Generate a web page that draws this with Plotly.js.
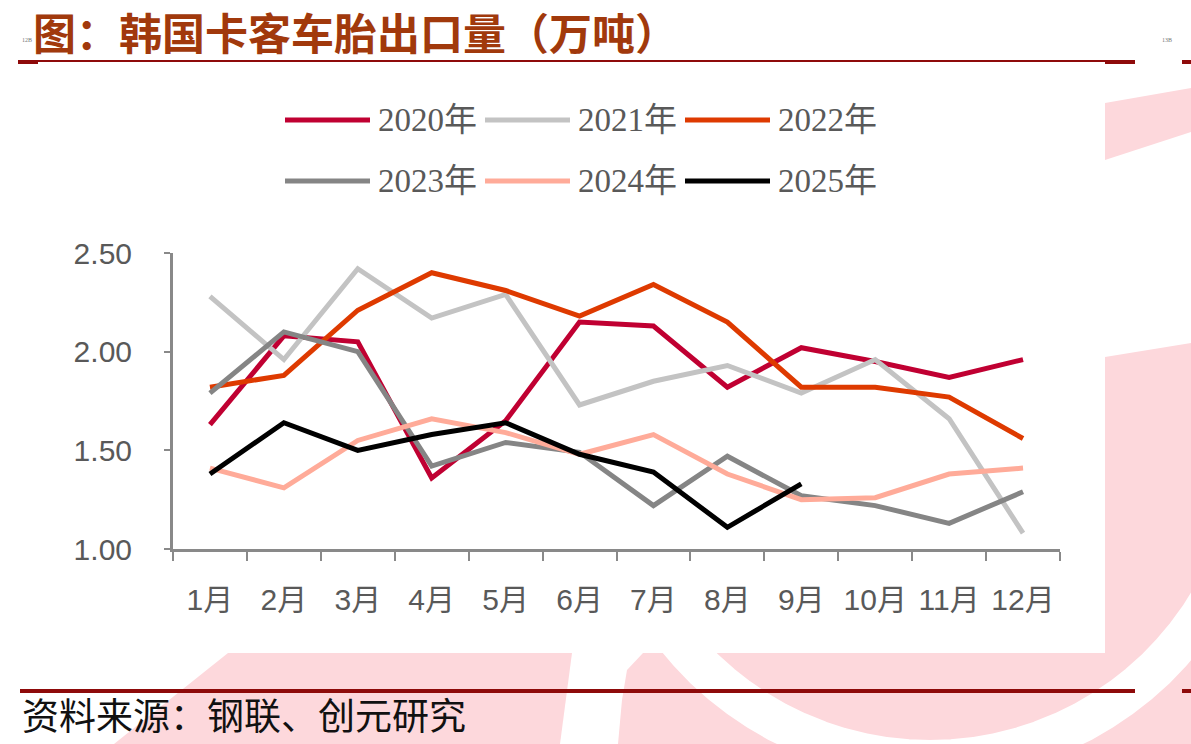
<!DOCTYPE html>
<html>
<head>
<meta charset="utf-8">
<script src="https://cdn.plot.ly/plotly-3.0.1.min.js"></script>
<style>html,body{margin:0;padding:0;background:#fff;}#chart{width:1191px;height:744px;}</style>
</head>
<body>
<div id="chart"></div>
<script>
// ---- data ----
const months = ['1月','2月','3月','4月','5月','6月','7月','8月','9月','10月','11月','12月'];
const seriesNames = ['2020年','2021年','2022年','2023年','2024年','2025年'];
const s2020 = [1.63, 2.08, 2.05, 1.36, 1.65, 2.15, 2.13, 1.82, 2.02, 1.95, 1.87, 1.96];
const s2021 = [2.28, 1.96, 2.42, 2.17, 2.29, 1.73, 1.85, 1.93, 1.79, 1.96, 1.66, 1.08];
const s2022 = [1.82, 1.88, 2.21, 2.40, 2.31, 2.18, 2.34, 2.15, 1.82, 1.82, 1.77, 1.56];
const s2023 = [1.79, 2.10, 2.00, 1.42, 1.54, 1.49, 1.22, 1.47, 1.27, 1.22, 1.13, 1.29];
const s2024 = [1.41, 1.31, 1.55, 1.66, 1.59, 1.48, 1.58, 1.38, 1.25, 1.26, 1.38, 1.41];
const s2025 = [1.38, 1.64, 1.50, 1.58, 1.64, 1.48, 1.39, 1.11, 1.33];
const yTickVals = [1.0, 1.5, 2.0, 2.5];
const yTickText = ['1.00', '1.50', '2.00', '2.50'];
const titleText = '图：韩国卡客车胎出口量（万吨）';
const sourceText = '资料来源：钢联、创元研究';

// ---- styles ----
const colors = ['#C00032', '#C3C3C3', '#DE3A00', '#858585', '#FFAB99', '#000000'];
const allSeries = [s2020, s2021, s2022, s2023, s2024, s2025];

const W = 1191, H = 744, L = 173, R = 131, T = 253, B = 195;
const pw = W - L - R, ph = H - T - B;
const X = px => (px - L) / pw;
const Y = py => (H - B - py) / ph;
const P = (pts, close) => 'M ' + pts.map(p => X(p[0]) + ',' + Y(p[1])).join(' L ') + (close === false ? '' : ' Z');

const pink = '#FDD8DC';
const darkRed = '#8E0A0A';

const traces = allSeries.map((s, i) => ({
  type: 'scatter', mode: 'lines', name: seriesNames[i],
  x: months.slice(0, s.length), y: s,
  line: {color: colors[i], width: 5},
  showlegend: false, hoverinfo: 'skip'
}));

const shapes = [];
const sh = o => shapes.push(Object.assign({xref: 'paper', yref: 'paper', layer: 'below'}, o));
// watermark
sh({type: 'path', path: P([[228,653],[572,653],[560,744],[114,744]]), fillcolor: pink, line: {width: 0}});
sh({type: 'path', path: P([[643,653],[1191,653],[1191,744],[618,744],[622,700],[627,670]]), fillcolor: pink, line: {width: 0}});
sh({type: 'path', path: P([[1105,357],[1191,343],[1191,653],[1105,653]]), fillcolor: pink, line: {width: 0}});
sh({type: 'path', path: P([[1105,103],[1191,88],[1191,132],[1105,160]]), fillcolor: pink, line: {width: 0}});
// white ring (lower arc only)
const ringPts = [];
for (let a = 10; a <= 170; a += 4) {
  const r = a * Math.PI / 180;
  ringPts.push([930 + 325 * Math.cos(r), 435 + 325 * Math.sin(r)]);
}
sh({type: 'path', path: P(ringPts, false), fillcolor: 'rgba(0,0,0,0)', line: {color: '#ffffff', width: 40}});
// white chart box
sh({type: 'rect', x0: X(0), x1: X(1105), y0: Y(653), y1: Y(66), fillcolor: '#ffffff', line: {width: 0}});
// header rules
sh({type: 'line', x0: X(18), x1: X(1135), y0: Y(61), y1: Y(61), line: {color: darkRed, width: 2}});
sh({type: 'line', x0: X(18), x1: X(38), y0: Y(62), y1: Y(62), line: {color: darkRed, width: 4}});
sh({type: 'line', x0: X(1105), x1: X(1135), y0: Y(62), y1: Y(62), line: {color: darkRed, width: 4}});
sh({type: 'line', x0: X(1182), x1: X(1191), y0: Y(62), y1: Y(62), line: {color: darkRed, width: 4}});
// footer rules
sh({type: 'line', x0: X(20), x1: X(1135), y0: Y(691), y1: Y(691), line: {color: darkRed, width: 4}});
sh({type: 'line', x0: X(1182), x1: X(1191), y0: Y(691), y1: Y(691), line: {color: darkRed, width: 4}});

const annotations = [];
const an = o => annotations.push(Object.assign({xref: 'paper', yref: 'paper', showarrow: false}, o));
an({text: '<b>' + titleText + '</b>', x: X(31), y: Y(31), xanchor: 'left', yanchor: 'middle',
    font: {family: 'Noto Sans CJK SC', size: 43, color: '#A1390C'}});
an({text: sourceText, x: X(20), y: Y(714), xanchor: 'left', yanchor: 'middle',
    font: {family: 'Noto Sans CJK SC', size: 37, color: '#111111'}});
an({text: '12B', x: X(20), y: Y(40), xanchor: 'left', yanchor: 'middle', font: {family: 'Liberation Serif', size: 6, color: '#777'}});
an({text: '13B', x: X(1160), y: Y(40), xanchor: 'left', yanchor: 'middle', font: {family: 'Liberation Serif', size: 6, color: '#777'}});

// custom legend (3 columns x 2 rows)
seriesNames.forEach((nm, i) => {
  const col = i % 3, row = Math.floor(i / 3);
  const lx = 285 + col * 200, ly = 120 + row * 61;
  sh({type: 'line', x0: X(lx), x1: X(lx + 85), y0: Y(ly), y1: Y(ly), line: {color: colors[i], width: 5}});
  an({text: nm, x: X(lx + 91), y: Y(ly), xanchor: 'left', yanchor: 'middle',
      font: {family: 'Liberation Serif, Noto Sans CJK SC', size: 33, color: '#595959'}});
});

const layout = {
  width: W, height: H,
  margin: {l: L, r: R, t: T, b: B},
  paper_bgcolor: '#ffffff', plot_bgcolor: 'rgba(0,0,0,0)',
  showlegend: false,
  xaxis: {
    type: 'category', range: [-0.5, 11.5],
    showline: true, linecolor: '#898989', linewidth: 3,
    ticks: 'outside', tickson: 'boundaries', ticklen: 9, tickwidth: 2, tickcolor: '#898989',
    showgrid: false, zeroline: false,
    tickfont: {family: 'Liberation Sans, Noto Sans CJK SC', size: 30, color: '#595959'},
    ticklabelstandoff: 22
  },
  yaxis: {
    range: [1.0, 2.5], tickvals: yTickVals, ticktext: yTickText,
    showline: true, linecolor: '#898989', linewidth: 3,
    ticks: 'outside', ticklen: 6, tickwidth: 2, tickcolor: '#898989',
    showgrid: false, zeroline: false,
    tickfont: {family: 'Liberation Sans', size: 30, color: '#595959'},
    ticklabelstandoff: 26
  },
  shapes: shapes,
  annotations: annotations
};

Plotly.newPlot('chart', traces, layout, {displayModeBar: false, staticPlot: true});
</script>
</body>
</html>
